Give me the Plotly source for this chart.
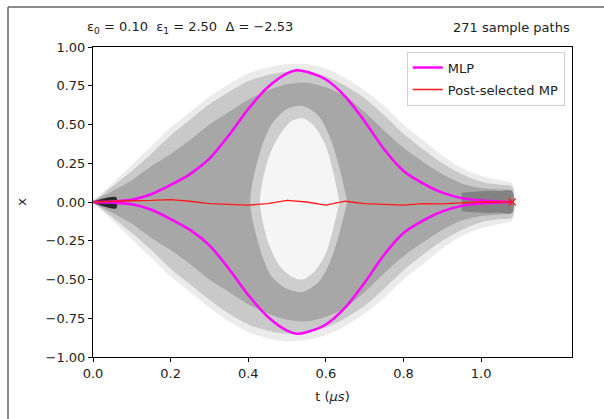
import plotly.graph_objects as go

# time grid (microseconds) shared by the envelope arrays
t_grid = [0.0, 0.02, 0.05, 0.1, 0.15, 0.2, 0.25, 0.3, 0.35, 0.4, 0.45, 0.5,
          0.55, 0.6, 0.65, 0.7, 0.75, 0.8, 0.85, 0.9, 0.95, 1.0, 1.05, 1.08]

# spread of the 271 sample paths: faint fringe, outer edge and denser core
cloud_fringe_hi = [0.0, 0.05, 0.12, 0.24, 0.36, 0.48, 0.58, 0.68, 0.76, 0.83, 0.87, 0.89,
                   0.89, 0.86, 0.8, 0.72, 0.62, 0.5, 0.4, 0.3, 0.22, 0.17, 0.14, 0.12]
cloud_fringe_lo = [0.0, -0.05, -0.12, -0.24, -0.36, -0.48, -0.58, -0.68, -0.77, -0.84, -0.88, -0.9,
                   -0.89, -0.86, -0.8, -0.72, -0.62, -0.5, -0.4, -0.3, -0.22, -0.17, -0.14, -0.12]
cloud_outer_hi = [0.0, 0.04, 0.1, 0.2, 0.31, 0.43, 0.53, 0.63, 0.71, 0.78, 0.82, 0.84,
                  0.84, 0.81, 0.75, 0.67, 0.56, 0.44, 0.34, 0.25, 0.18, 0.13, 0.11, 0.1]
cloud_outer_lo = [0.0, -0.04, -0.1, -0.2, -0.31, -0.43, -0.53, -0.63, -0.72, -0.79, -0.83, -0.85,
                  -0.84, -0.81, -0.75, -0.67, -0.56, -0.44, -0.34, -0.25, -0.18, -0.13, -0.11, -0.1]
cloud_core_hi = [0.0, 0.03, 0.07, 0.14, 0.23, 0.31, 0.4, 0.5, 0.58, 0.66, 0.72, 0.76,
                 0.77, 0.74, 0.68, 0.58, 0.46, 0.35, 0.26, 0.18, 0.12, 0.09, 0.08, 0.07]
cloud_core_lo = [0.0, -0.03, -0.07, -0.14, -0.23, -0.31, -0.4, -0.5, -0.58, -0.66, -0.72, -0.76,
                 -0.77, -0.74, -0.68, -0.58, -0.46, -0.35, -0.26, -0.18, -0.12, -0.09, -0.08, -0.07]

# sparsely visited region in the middle of the bundle (soft rim and clear centre)
hole_rim_t = [0.405, 0.43, 0.46, 0.5, 0.54, 0.58, 0.61, 0.635, 0.655]
hole_rim_hi = [0.0, 0.32, 0.5, 0.6, 0.62, 0.56, 0.42, 0.22, 0.0]
hole_rim_lo = [0.0, -0.3, -0.48, -0.56, -0.58, -0.52, -0.39, -0.2, 0.0]
hole_t = [0.43, 0.45, 0.48, 0.51, 0.54, 0.57, 0.6, 0.62, 0.635]
hole_hi = [0.0, 0.27, 0.43, 0.52, 0.54, 0.49, 0.36, 0.18, 0.0]
hole_lo = [0.0, -0.25, -0.41, -0.48, -0.5, -0.45, -0.33, -0.16, 0.0]

# converging start and end of the bundle
wedge_t = [0.0, 0.03, 0.06]
wedge_hi = [0.0, 0.025, 0.03]
wedge_lo = [0.0, -0.03, -0.04]
tube_t = [0.95, 1.0, 1.05, 1.08]
tube_hi = [0.06, 0.07, 0.07, 0.07]
tube_lo = [-0.06, -0.07, -0.07, -0.07]

# most likely paths (two branches)
mlp_t = [0.0, 0.05, 0.1, 0.15, 0.2, 0.25, 0.3, 0.35, 0.4, 0.45, 0.5, 0.525,
         0.55, 0.6, 0.65, 0.7, 0.75, 0.8, 0.85, 0.9, 0.95, 1.0, 1.05, 1.08]
mlp_upper = [0.0, 0.004, 0.015, 0.05, 0.11, 0.18, 0.28, 0.43, 0.6, 0.74, 0.83, 0.85,
             0.84, 0.79, 0.68, 0.52, 0.34, 0.2, 0.12, 0.06, 0.025, 0.01, 0.004, 0.0]
mlp_lower = [0.0, -0.004, -0.015, -0.05, -0.11, -0.18, -0.28, -0.43, -0.6, -0.74, -0.83, -0.85,
             -0.84, -0.79, -0.68, -0.52, -0.34, -0.2, -0.12, -0.06, -0.025, -0.01, -0.004, 0.0]

# post-selected most probable path
ps_t = [0.0, 0.05, 0.1, 0.15, 0.2, 0.25, 0.3, 0.35, 0.4, 0.45, 0.5, 0.55,
        0.6, 0.65, 0.7, 0.75, 0.8, 0.85, 0.9, 0.95, 1.0, 1.05, 1.08]
ps_x = [0.0, 0.005, 0.008, 0.01, 0.015, 0.005, -0.01, -0.015, -0.02, -0.01, 0.01, 0.0,
        -0.02, 0.005, -0.01, -0.015, -0.02, -0.01, -0.012, -0.005, 0.0, 0.0, 0.0]

x_ticks = [0.0, 0.2, 0.4, 0.6, 0.8, 1.0]
y_ticks = [-1.0, -0.75, -0.5, -0.25, 0.0, 0.25, 0.5, 0.75, 1.0]

title_left = "ε<sub>0</sub> = 0.10  ε<sub>1</sub> = 2.50  Δ = −2.53"
title_right = "271 sample paths"

W, H = 604, 419
L, R, T, B = 93, 32, 47, 62
FONT = "DejaVu Sans"


def band(t, hi, lo, color):
    return go.Scatter(x=list(t) + list(t)[::-1], y=list(hi) + list(lo)[::-1],
                      fill="toself", fillcolor=color, mode="lines",
                      line=dict(width=0, shape="spline", smoothing=0.8),
                      showlegend=False, hoverinfo="skip")


fig = go.Figure()
fig.add_trace(band(t_grid, cloud_fringe_hi, cloud_fringe_lo, "rgba(0,0,0,0.08)"))
fig.add_trace(band(t_grid, cloud_outer_hi, cloud_outer_lo, "rgba(0,0,0,0.14)"))
fig.add_trace(band(t_grid, cloud_core_hi, cloud_core_lo, "rgba(0,0,0,0.17)"))
fig.add_trace(band(hole_rim_t, hole_rim_hi, hole_rim_lo, "rgba(255,255,255,0.45)"))
fig.add_trace(band(hole_t, hole_hi, hole_lo, "rgba(255,255,255,0.8)"))
fig.add_trace(band(wedge_t, wedge_hi, wedge_lo, "rgba(0,0,0,0.75)"))
fig.add_trace(band(tube_t, tube_hi, tube_lo, "rgba(0,0,0,0.22)"))

fig.add_trace(go.Scatter(x=mlp_t, y=mlp_upper, mode="lines", name="MLP",
                         legendgroup="mlp",
                         line=dict(color="#ff00ff", width=2.5, shape="spline", smoothing=0.8)))
fig.add_trace(go.Scatter(x=mlp_t, y=mlp_lower, mode="lines", name="MLP",
                         legendgroup="mlp", showlegend=False,
                         line=dict(color="#ff00ff", width=2.5, shape="spline", smoothing=0.8)))
fig.add_trace(go.Scatter(x=ps_t, y=ps_x, mode="lines", name="Post-selected MP",
                         line=dict(color="#ff1a1a", width=1.3)))
fig.add_trace(go.Scatter(x=[ps_t[-1]], y=[ps_x[-1]], mode="markers", showlegend=False,
                         marker=dict(symbol="x-thin", size=7,
                                     line=dict(color="#ff1a1a", width=1.2))))

pw, ph = W - L - R, H - T - B


def px(xp):
    return (xp - L) / pw


def py(yp):
    return (H - B - yp) / ph


axis_common = dict(showgrid=False, zeroline=False, showline=True, linecolor="black",
                   linewidth=1, mirror=True, ticks="outside", ticklen=4,
                   tickcolor="black", tickfont=dict(family=FONT, size=13, color="#222"))

fig.update_layout(
    width=W, height=H,
    margin=dict(l=L, r=R, t=T, b=B),
    paper_bgcolor="white", plot_bgcolor="white",
    font=dict(family=FONT, size=13, color="#222"),
    xaxis=dict(range=[0, 1.234], tickvals=x_ticks, tickformat=".1f",
               title=dict(text="t (<i>μs</i>)", font=dict(family=FONT, size=13), standoff=12),
               **axis_common),
    yaxis=dict(range=[-1, 1], tickvals=y_ticks, tickformat=".2f",
               title=dict(text="x", font=dict(family=FONT, size=13), standoff=16),
               **axis_common),
    legend=dict(x=0.985, y=0.985, xanchor="right", yanchor="top",
                bgcolor="rgba(255,255,255,0.85)", bordercolor="#d0d0d0", borderwidth=1,
                font=dict(family=FONT, size=13, color="#222"), tracegroupgap=2),
    annotations=[
        dict(text=title_left, x=px(85), y=py(27), xref="paper", yref="paper",
             xanchor="left", yanchor="middle", showarrow=False,
             font=dict(family=FONT, size=13, color="#222")),
        dict(text=title_right, x=1.0, y=py(27), xref="paper", yref="paper",
             xanchor="right", yanchor="middle", showarrow=False,
             font=dict(family=FONT, size=13, color="#222")),
    ],
    shapes=[
        dict(type="line", xref="paper", yref="paper", x0=px(8), x1=px(8),
             y0=py(7), y1=py(H), line=dict(color="#666", width=1.5)),
        dict(type="line", xref="paper", yref="paper", x0=px(8), x1=px(W),
             y0=py(7), y1=py(7), line=dict(color="#666", width=1.5)),
    ],
)

fig.write_html("out.html")
